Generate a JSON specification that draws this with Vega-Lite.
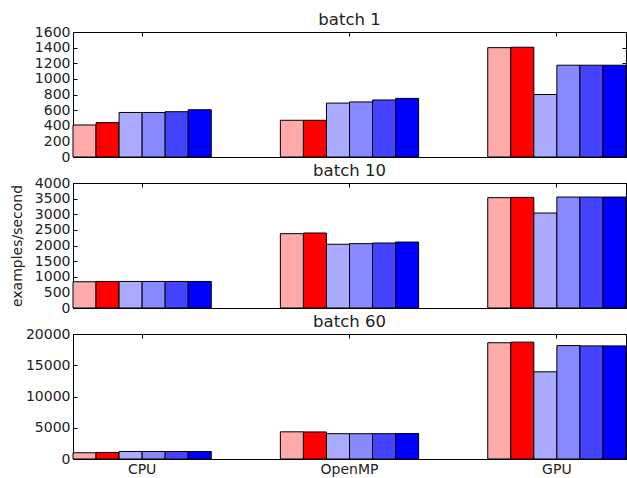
{
  "$schema": "https://vega.github.io/schema/vega-lite/v6.json",
  "padding": {"left": 9, "top": 11, "right": 0, "bottom": 0},
  "spacing": -3,
  "background": "white",
  "config": {
    "view": {"stroke": "black", "strokeWidth": 1},
    "font": "DejaVu Sans",
    "title": {"font": "DejaVu Sans", "fontSize": 16.5, "fontWeight": "normal", "color": "#222", "offset": -3},
    "axis": {
      "domainColor": "black", "domainWidth": 1, "tickColor": "black", "tickSize": -4, "tickWidth": 1,
      "labelFont": "DejaVu Sans", "labelFontSize": 14, "labelColor": "#222", "labelPadding": 7,
      "labelOverlap": false, "labelBound": false, "labelFlush": false,
      "titleFont": "DejaVu Sans", "titleFontSize": 14, "titleFontWeight": "normal", "titleColor": "#222",
      "grid": false, "bandPosition": 0.5
    }
  },
  "datasets": {
    "d": [
      {"batch": "batch 1", "device": "CPU", "config": "c1", "value": 410},
      {"batch": "batch 1", "device": "CPU", "config": "c2", "value": 440},
      {"batch": "batch 1", "device": "CPU", "config": "c3", "value": 570},
      {"batch": "batch 1", "device": "CPU", "config": "c4", "value": 570},
      {"batch": "batch 1", "device": "CPU", "config": "c5", "value": 580},
      {"batch": "batch 1", "device": "CPU", "config": "c6", "value": 605},
      {"batch": "batch 1", "device": "OpenMP", "config": "c1", "value": 470},
      {"batch": "batch 1", "device": "OpenMP", "config": "c2", "value": 470},
      {"batch": "batch 1", "device": "OpenMP", "config": "c3", "value": 690},
      {"batch": "batch 1", "device": "OpenMP", "config": "c4", "value": 705},
      {"batch": "batch 1", "device": "OpenMP", "config": "c5", "value": 730},
      {"batch": "batch 1", "device": "OpenMP", "config": "c6", "value": 750},
      {"batch": "batch 1", "device": "GPU", "config": "c1", "value": 1400},
      {"batch": "batch 1", "device": "GPU", "config": "c2", "value": 1405},
      {"batch": "batch 1", "device": "GPU", "config": "c3", "value": 800},
      {"batch": "batch 1", "device": "GPU", "config": "c4", "value": 1175},
      {"batch": "batch 1", "device": "GPU", "config": "c5", "value": 1175},
      {"batch": "batch 1", "device": "GPU", "config": "c6", "value": 1175},
      {"batch": "batch 10", "device": "CPU", "config": "c1", "value": 840},
      {"batch": "batch 10", "device": "CPU", "config": "c2", "value": 850},
      {"batch": "batch 10", "device": "CPU", "config": "c3", "value": 850},
      {"batch": "batch 10", "device": "CPU", "config": "c4", "value": 850},
      {"batch": "batch 10", "device": "CPU", "config": "c5", "value": 850},
      {"batch": "batch 10", "device": "CPU", "config": "c6", "value": 850},
      {"batch": "batch 10", "device": "OpenMP", "config": "c1", "value": 2380},
      {"batch": "batch 10", "device": "OpenMP", "config": "c2", "value": 2400},
      {"batch": "batch 10", "device": "OpenMP", "config": "c3", "value": 2040},
      {"batch": "batch 10", "device": "OpenMP", "config": "c4", "value": 2060},
      {"batch": "batch 10", "device": "OpenMP", "config": "c5", "value": 2080},
      {"batch": "batch 10", "device": "OpenMP", "config": "c6", "value": 2110},
      {"batch": "batch 10", "device": "GPU", "config": "c1", "value": 3530},
      {"batch": "batch 10", "device": "GPU", "config": "c2", "value": 3540},
      {"batch": "batch 10", "device": "GPU", "config": "c3", "value": 3040},
      {"batch": "batch 10", "device": "GPU", "config": "c4", "value": 3550},
      {"batch": "batch 10", "device": "GPU", "config": "c5", "value": 3550},
      {"batch": "batch 10", "device": "GPU", "config": "c6", "value": 3550},
      {"batch": "batch 60", "device": "CPU", "config": "c1", "value": 1000},
      {"batch": "batch 60", "device": "CPU", "config": "c2", "value": 1050},
      {"batch": "batch 60", "device": "CPU", "config": "c3", "value": 1200},
      {"batch": "batch 60", "device": "CPU", "config": "c4", "value": 1200},
      {"batch": "batch 60", "device": "CPU", "config": "c5", "value": 1200},
      {"batch": "batch 60", "device": "CPU", "config": "c6", "value": 1200},
      {"batch": "batch 60", "device": "OpenMP", "config": "c1", "value": 4350},
      {"batch": "batch 60", "device": "OpenMP", "config": "c2", "value": 4330},
      {"batch": "batch 60", "device": "OpenMP", "config": "c3", "value": 4050},
      {"batch": "batch 60", "device": "OpenMP", "config": "c4", "value": 4050},
      {"batch": "batch 60", "device": "OpenMP", "config": "c5", "value": 4050},
      {"batch": "batch 60", "device": "OpenMP", "config": "c6", "value": 4070},
      {"batch": "batch 60", "device": "GPU", "config": "c1", "value": 18600},
      {"batch": "batch 60", "device": "GPU", "config": "c2", "value": 18700},
      {"batch": "batch 60", "device": "GPU", "config": "c3", "value": 13950},
      {"batch": "batch 60", "device": "GPU", "config": "c4", "value": 18150},
      {"batch": "batch 60", "device": "GPU", "config": "c5", "value": 18100},
      {"batch": "batch 60", "device": "GPU", "config": "c6", "value": 18100}
    ]
  },
  "data": {"name": "d"},
  "vconcat": [
    {
      "title": "batch 1",
      "width": 553, "height": 125,
      "transform": [{"filter": "datum.batch === 'batch 1'"}],
      "layer": [
        {
          "mark": {"type": "bar", "stroke": "black", "strokeWidth": 1},
          "encoding": {
            "x": {"field": "device", "type": "nominal", "sort": ["CPU", "OpenMP", "GPU"], "scale": {"paddingInner": 0.3333, "paddingOuter": 0}, "title": null, "axis": {"orient": "bottom", "labels": false}},
            "xOffset": {"field": "config", "type": "nominal", "sort": ["c1", "c2", "c3", "c4", "c5", "c6"], "scale": {"paddingInner": 0, "paddingOuter": 0}},
            "y": {"field": "value", "type": "quantitative", "scale": {"domain": [0, 1600], "nice": false}, "title": null, "axis": {"orient": "left", "values": [0, 200, 400, 600, 800, 1000, 1200, 1400, 1600], "format": "d"}},
            "color": {"field": "config", "type": "nominal", "scale": {"domain": ["c1", "c2", "c3", "c4", "c5", "c6"], "range": ["#ffaaaa", "#ff0000", "#aaaaff", "#8888ff", "#4444ff", "#0000ff"]}, "legend": null}
          }
        },
        {
          "mark": {"type": "bar", "opacity": 0},
          "encoding": {
            "x": {"field": "device", "type": "nominal", "sort": ["CPU", "OpenMP", "GPU"], "scale": {"paddingInner": 0.3333, "paddingOuter": 0}, "title": null, "axis": {"orient": "top", "labels": false}},
            "xOffset": {"field": "config", "type": "nominal", "sort": ["c1", "c2", "c3", "c4", "c5", "c6"], "scale": {"paddingInner": 0, "paddingOuter": 0}},
            "y": {"field": "value", "type": "quantitative", "scale": {"domain": [0, 1600], "nice": false}, "title": null, "axis": {"orient": "right", "labels": false, "values": [0, 200, 400, 600, 800, 1000, 1200, 1400, 1600]}}
          }
        }
      ],
      "resolve": {"scale": {"x": "independent", "y": "independent"}, "axis": {"x": "independent", "y": "independent"}}
    },
    {
      "title": "batch 10",
      "width": 553, "height": 125,
      "transform": [{"filter": "datum.batch === 'batch 10'"}],
      "layer": [
        {
          "mark": {"type": "bar", "stroke": "black", "strokeWidth": 1},
          "encoding": {
            "x": {"field": "device", "type": "nominal", "sort": ["CPU", "OpenMP", "GPU"], "scale": {"paddingInner": 0.3333, "paddingOuter": 0}, "title": null, "axis": {"orient": "bottom", "labels": false}},
            "xOffset": {"field": "config", "type": "nominal", "sort": ["c1", "c2", "c3", "c4", "c5", "c6"], "scale": {"paddingInner": 0, "paddingOuter": 0}},
            "y": {"field": "value", "type": "quantitative", "scale": {"domain": [0, 4000], "nice": false}, "title": "examples/second", "axis": {"orient": "left", "values": [0, 500, 1000, 1500, 2000, 2500, 3000, 3500, 4000], "format": "d", "titlePadding": 10}},
            "color": {"field": "config", "type": "nominal", "scale": {"domain": ["c1", "c2", "c3", "c4", "c5", "c6"], "range": ["#ffaaaa", "#ff0000", "#aaaaff", "#8888ff", "#4444ff", "#0000ff"]}, "legend": null}
          }
        },
        {
          "mark": {"type": "bar", "opacity": 0},
          "encoding": {
            "x": {"field": "device", "type": "nominal", "sort": ["CPU", "OpenMP", "GPU"], "scale": {"paddingInner": 0.3333, "paddingOuter": 0}, "title": null, "axis": {"orient": "top", "labels": false}},
            "xOffset": {"field": "config", "type": "nominal", "sort": ["c1", "c2", "c3", "c4", "c5", "c6"], "scale": {"paddingInner": 0, "paddingOuter": 0}},
            "y": {"field": "value", "type": "quantitative", "scale": {"domain": [0, 4000], "nice": false}, "title": null, "axis": {"orient": "right", "labels": false, "values": [0, 500, 1000, 1500, 2000, 2500, 3000, 3500, 4000]}}
          }
        }
      ],
      "resolve": {"scale": {"x": "independent", "y": "independent"}, "axis": {"x": "independent", "y": "independent"}}
    },
    {
      "title": "batch 60",
      "width": 553, "height": 125,
      "transform": [{"filter": "datum.batch === 'batch 60'"}],
      "layer": [
        {
          "mark": {"type": "bar", "stroke": "black", "strokeWidth": 1},
          "encoding": {
            "x": {"field": "device", "type": "nominal", "sort": ["CPU", "OpenMP", "GPU"], "scale": {"paddingInner": 0.3333, "paddingOuter": 0}, "title": null, "axis": {"orient": "bottom", "labelAngle": 0}},
            "xOffset": {"field": "config", "type": "nominal", "sort": ["c1", "c2", "c3", "c4", "c5", "c6"], "scale": {"paddingInner": 0, "paddingOuter": 0}},
            "y": {"field": "value", "type": "quantitative", "scale": {"domain": [0, 20000], "nice": false}, "title": null, "axis": {"orient": "left", "values": [0, 5000, 10000, 15000, 20000], "format": "d"}},
            "color": {"field": "config", "type": "nominal", "scale": {"domain": ["c1", "c2", "c3", "c4", "c5", "c6"], "range": ["#ffaaaa", "#ff0000", "#aaaaff", "#8888ff", "#4444ff", "#0000ff"]}, "legend": null}
          }
        },
        {
          "mark": {"type": "bar", "opacity": 0},
          "encoding": {
            "x": {"field": "device", "type": "nominal", "sort": ["CPU", "OpenMP", "GPU"], "scale": {"paddingInner": 0.3333, "paddingOuter": 0}, "title": null, "axis": {"orient": "top", "labels": false}},
            "xOffset": {"field": "config", "type": "nominal", "sort": ["c1", "c2", "c3", "c4", "c5", "c6"], "scale": {"paddingInner": 0, "paddingOuter": 0}},
            "y": {"field": "value", "type": "quantitative", "scale": {"domain": [0, 20000], "nice": false}, "title": null, "axis": {"orient": "right", "labels": false, "values": [0, 5000, 10000, 15000, 20000]}}
          }
        }
      ],
      "resolve": {"scale": {"x": "independent", "y": "independent"}, "axis": {"x": "independent", "y": "independent"}}
    }
  ]
}
